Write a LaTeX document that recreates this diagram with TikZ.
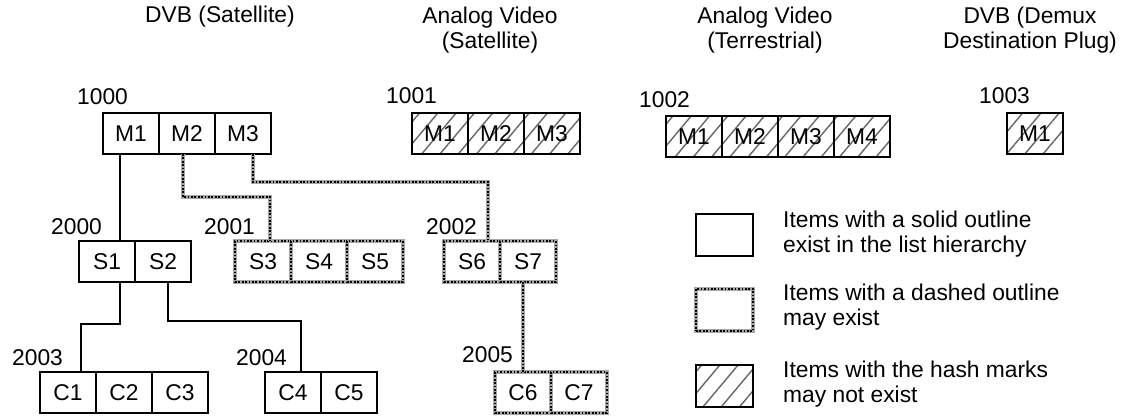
\documentclass[tikz,border=0pt]{standalone}
\usepackage{fontspec}
\setmainfont{Liberation Sans}
\usetikzlibrary{patterns.meta, positioning}

\tikzset{
  cell/.style={draw, line width=2.2pt, minimum width=56pt, minimum height=41pt, inner sep=0pt, outer sep=0pt},
  maybe/.style={cell, draw=gray!70, line width=3.4pt, postaction={draw=black, line width=1.6pt, dash pattern=on 1.7pt off 1.7pt}},
  hashed/.style={cell, pattern={Lines[angle=50, distance=14pt, line width=1.4pt]}, pattern color=black!60},
  link/.style={line width=2.2pt},
  maybelink/.style={draw=gray!70, line width=3.4pt, postaction={draw=black, line width=1.6pt, dash pattern=on 1.7pt off 1.7pt}},
  listid/.style={anchor=west, inner sep=0pt},
  title/.style={align=center, inner sep=0pt}
}

\begin{document}
\begin{tikzpicture}[x=1pt, y=-1pt, font=\fontsize{22.8}{25}\selectfont]
\useasboundingbox (0,0) rectangle (1123,417);

% column titles
\node[title] (tdvb) at (220,17) {DVB (Satellite)};
\node[title] (tavs) at (490,30.5) {Analog Video\\(Satellite)};
\node[title] (tavt) at (765,30.5) {Analog Video\\(Terrestrial)};
\node[title] (tdmx) at (1030,30.5) {DVB (Demux\\Destination Plug)};

% top level lists
\foreach \lab [count=\i] in {M1,M2,M3}
  \node[cell] (\lab) at ({103+56*\i-28},133.5) {\lab};
\foreach \lab [count=\i] in {M1,M2,M3}
  \node[hashed] (sat\i) at ({412+56*\i-28},133.5) {\lab};
\foreach \lab [count=\i] in {M1,M2,M3,M4}
  \node[hashed] (ter\i) at ({666+56*\i-28},136.5) {\lab};
\node[hashed] (dmx1) at (1035,133.5) {M1};

% second level
\foreach \lab [count=\i] in {S1,S2}
  \node[cell] (\lab) at ({79+56*\i-28},261.5) {\lab};
\foreach \lab [count=\i] in {S3,S4,S5}
  \node[maybe] (\lab) at ({235+56*\i-28},261.5) {\lab};
\foreach \lab [count=\i] in {S6,S7}
  \node[maybe] (\lab) at ({444+56*\i-28},261.5) {\lab};

% third level
\foreach \lab [count=\i] in {C1,C2,C3}
  \node[cell] (\lab) at ({40+56*\i-28},392.5) {\lab};
\foreach \lab [count=\i] in {C4,C5}
  \node[cell] (\lab) at ({265+56*\i-28},392.5) {\lab};
\foreach \lab [count=\i] in {C6,C7}
  \node[maybe] (\lab) at ({495+56*\i-28},392.5) {\lab};

% list ids
\node[listid] (id1000) at (77,97) {1000};
\node[listid] (id1001) at (386,96) {1001};
\node[listid] (id1002) at (639,100) {1002};
\node[listid] (id1003) at (979,96) {1003};
\node[listid] (id2000) at (51,226.5) {2000};
\node[listid] (id2001) at (204,226.5) {2001};
\node[listid] (id2002) at (426,226.5) {2002};
\node[listid] (id2003) at (12,357.5) {2003};
\node[listid] (id2004) at (236,357.5) {2004};
\node[listid] (id2005) at (462,355) {2005};

% connectors
\draw[link] ([xshift=-11pt]M1.south) -- ([xshift=-11pt]M1.south |- S1.north);
\draw[link] ([xshift=13pt]S1.south) -- ++(0,42) -| ([xshift=13pt]C1.north);
\draw[link] ([xshift=5pt]S2.south) -- ++(0,39) -| ([xshift=8pt]C4.north);
\draw[maybelink] ([xshift=-4pt]M2.south) -- ++(0,43) -| ([xshift=7pt]S3.north);
\draw[maybelink] ([xshift=10pt]M3.south) -- ++(0,28) -| ([xshift=16pt]S6.north);
\draw[maybelink] (C6.north |- S7.south) -- (C6.north);

% legend
\node[cell, minimum width=57pt, minimum height=42pt] (keysolid) at (724.5,235) {};
\node[maybe, minimum width=57pt, minimum height=42pt] (keymaybe) at (724.5,310) {};
\node[hashed, minimum width=57pt, minimum height=42pt] (keyhash) at (724.5,386) {};
\node[listid, align=left] (txtsolid) at (783,234.5) {Items with a solid outline\\exist in the list hierarchy};
\node[listid, align=left] (txtmaybe) at (783,307.5) {Items with a dashed outline\\may exist};
\node[listid, align=left] (txthash) at (783,384.5) {Items with the hash marks\\may not exist};
\end{tikzpicture}
\end{document}
